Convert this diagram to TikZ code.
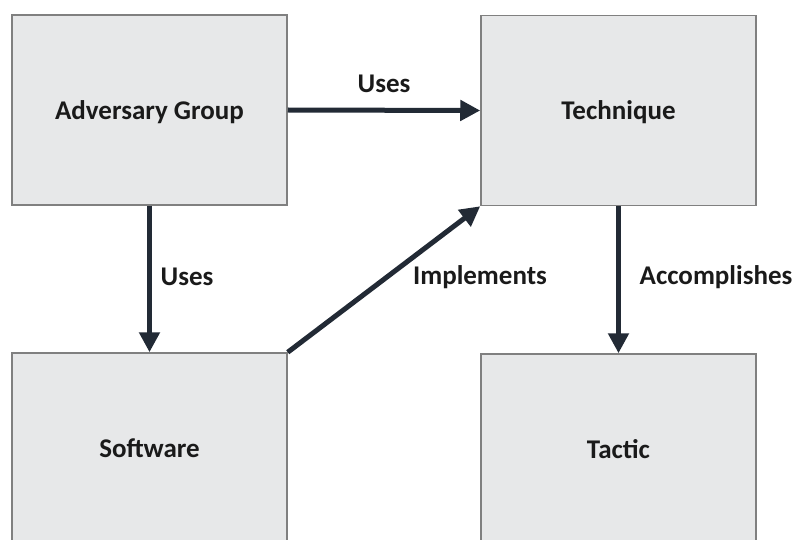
\documentclass[tikz,border=0pt]{standalone}
\usepackage{fontspec}
\setmainfont{Carlito}
\usetikzlibrary{arrows.meta}
\definecolor{boxfill}{HTML}{E7E8E9}
\definecolor{boxline}{HTML}{808080}
\definecolor{arrowc}{HTML}{222A35}
\definecolor{txt}{HTML}{1A1A1A}
\begin{document}
\begin{tikzpicture}[x=1pt,y=-1pt,
  box/.style={draw=boxline, line width=1.5pt, fill=boxfill,
    minimum width=275pt, minimum height=190pt, inner sep=0pt,
    text depth=0pt,
    font=\bfseries\fontsize{27}{32}\selectfont, text=txt},
  link/.style={draw=arrowc, line width=5pt,
    -{Triangle[length=20pt,width=20pt]}},
  lbl/.style={font=\bfseries\fontsize{27}{32}\selectfont, text=txt}]
\useasboundingbox (0,0) rectangle (795,540);

% the four concept boxes
\node[box] (adv)  at (149.5,110)   {Adversary Group};
\node[box] (tech) at (618.5,110.5) {Technique};
\node[box] (soft) at (149.5,448)   {Software};
\node[box] (tac)  at (618.5,449)   {Tactic};

% relations between them
\draw[link] (adv.east) -- (tech.west);
\draw[link] (adv.south) -- (soft.north);
\draw[link] (soft.north east) -- (tech.south west);
\draw[link] (tech.south) -- (tac.north);

% relation labels
\node[lbl] (l1) at (384,84)  {Uses};
\node[lbl] (l2) at (187,277) {Uses};
\node[lbl] (l3) at (480,277) {Implements};
\node[lbl] (l4) at (716,277) {Accomplishes};
\end{tikzpicture}
\end{document}
